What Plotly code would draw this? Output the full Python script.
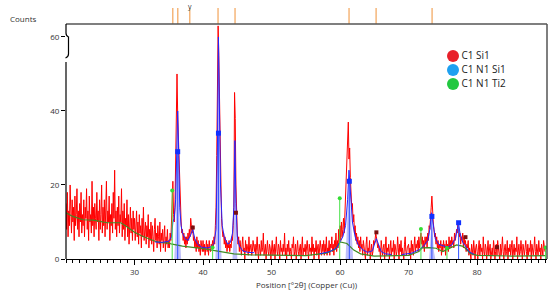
import plotly.graph_objects as go

scan_start = 20.0
scan_step = 0.1
counts = [
    15, 8, 18, 6, 13, 9, 20, 11, 7, 16, 10, 14, 5, 17, 9, 12, 19, 8, 13, 6, 15, 10, 18, 7, 12,
    9, 16, 6, 14, 11, 19, 8, 13, 5, 17, 10, 12, 7, 21, 9, 14, 6, 15, 11, 8, 18, 10, 13, 5, 16,
    8, 12, 20, 7, 14, 9, 16, 6, 11, 21, 8, 13, 10, 17, 5, 12, 9, 15, 7, 18, 11, 24, 8, 13, 6,
    14, 9, 17, 7, 12, 10, 19, 6, 13, 8, 15, 5, 11, 9, 16, 6, 12, 4, 10, 14, 7, 11, 5, 13, 8,
    11, 5, 9, 13, 6, 10, 4, 12, 7, 9, 3, 11, 6, 14, 5, 8, 10, 4, 9, 6, 12, 3, 8, 5, 10,
    4, 9, 6, 2, 8, 11, 5, 7, 3, 9, 6, 4, 10, 2, 7, 5, 8, 3, 6, 9, 2, 6, 4, 8, 3,
    5, 3, 7, 5, 9, 14, 21, 12, 10, 14, 24, 32, 50, 39, 33, 22, 18, 12, 10, 7, 8, 5, 7, 4, 6,
    3, 6, 4, 7, 5, 8, 6, 11, 9, 7, 9, 5, 6, 3, 5, 2, 6, 3, 5, 2, 4, 1, 5, 3, 2,
    5, 2, 4, 1, 3, 5, 2, 4, 1, 5, 3, 2, 4, 3, 5, 3, 6, 4, 9, 14, 28, 44, 63, 55, 42,
    24, 16, 11, 8, 6, 7, 4, 6, 3, 5, 2, 4, 3, 5, 2, 4, 3, 6, 5, 9, 14, 45, 38, 20, 10,
    7, 4, 6, 2, 5, 3, 1, 4, 6, 2, 3, 0, 5, 2, 4, 3, 1, 6, 2, 3, 4, 1, 2, 5, 3,
    2, 4, 1, 3, 6, 2, 0, 4, 3, 1, 5, 2, 3, 7, 1, 2, 4, 0, 3, 5, 2, 1, 4, 3, 0,
    3, 5, 1, 2, 4, 0, 3, 6, 2, 1, 4, 3, 0, 5, 2, 3, 1, 4, 2, 7, 1, 3, 0, 4, 2,
    5, 1, 3, 2, 0, 4, 3, 6, 1, 2, 4, 0, 3, 5, 2, 1, 3, 4, 0, 2, 6, 1, 3, 2, 4,
    1, 3, 5, 2, 0, 4, 2, 3, 1, 6, 2, 4, 0, 3, 2, 5, 1, 3, 4, 0, 2, 5, 3, 1, 4,
    2, 5, 1, 4, 2, 6, 1, 3, 2, 5, 1, 4, 3, 6, 2, 4, 1, 5, 3, 7, 2, 5, 3, 8, 4,
    9, 5, 10, 6, 8, 11, 7, 12, 14, 18, 22, 27, 37, 27, 30, 22, 19, 14, 15, 10, 12, 7, 9, 5, 7,
    4, 6, 3, 5, 2, 6, 3, 4, 1, 5, 3, 2, 0, 4, 6, 1, 3, 2, 5, 0, 3, 4, 1, 2, 5,
    4, 5, 7, 6, 5, 3, 4, 2, 3, 0, 5, 2, 1, 3, 4, 0, 2, 6, 1, 3, 2, 4, 0, 3, 5,
    1, 3, 2, 5, 0, 4, 3, 1, 2, 6, 3, 0, 4, 2, 5, 1, 3, 2, 0, 4, 6, 2, 1, 3, 4,
    4, 1, 3, 0, 5, 2, 4, 1, 3, 6, 2, 4, 3, 5, 2, 6, 3, 5, 7, 4, 6, 3, 5, 2, 6,
    4, 6, 3, 7, 5, 9, 8, 13, 14, 17, 12, 10, 8, 6, 7, 4, 6, 3, 5, 2, 4, 3, 5, 1, 4,
    2, 5, 3, 4, 1, 5, 3, 4, 2, 6, 3, 5, 3, 6, 4, 5, 3, 7, 5, 6, 8, 7, 10, 8, 6,
    7, 4, 6, 5, 7, 3, 6, 4, 5, 2, 4, 3, 5, 1, 3, 2, 0, 4, 3, 1, 5, 2, 0, 3, 4,
    2, 0, 3, 5, 1, 4, 2, 3, 0, 6, 2, 1, 4, 3, 0, 2, 5, 1, 3, 4, 0, 2, 3, 1, 5,
    3, 0, 2, 4, 1, 5, 3, 2, 0, 4, 1, 3, 6, 2, 0, 3, 4, 1, 2, 5, 0, 3, 2, 4, 1,
    3, 5, 0, 2, 4, 1, 3, 2, 6, 0, 3, 4, 1, 2, 5, 3, 0, 4, 2, 1, 3, 5, 2, 0, 4,
    1, 3, 2, 5, 0, 4, 2, 1, 3, 6, 2, 0, 4, 3, 1, 5, 2, 3, 0, 4, 2, 1, 5, 3, 2,
    2,
]
two_theta = [scan_start + i * scan_step for i in range(len(counts))]

# background (green)
bg_x = [20, 21, 22.5, 24, 26, 28, 29, 30, 31, 32, 33, 34, 35, 35.5, 37, 40, 42, 44.5, 47, 50,
        55, 58, 59.3, 60, 61, 62, 63, 65, 68, 70, 71.5, 72, 73, 74, 75, 76, 77, 78, 79, 80, 85, 90]
bg_y = [12.5, 11.5, 10.6, 10.5, 9.8, 9.8, 8.6, 7.2, 6.3, 5.6, 4.8, 4.4, 4.3, 4.0, 3.5, 2.8, 2.2, 1.4, 1.1, 1.0,
        0.9, 1.6, 2.6, 4.6, 4.2, 2.4, 1.4, 0.8, 0.9, 1.0, 2.0, 3.0, 3.1, 2.9, 2.0, 2.8, 3.8, 3.4, 1.5, 1.0, 0.8, 0.9]

# calculated profile (blue), three fitted ranges
calc_x = [
    [33, 34, 35, 35.4, 35.6, 35.8, 36.0, 36.15, 36.3, 36.45, 36.6, 36.8, 37.0, 37.4, 37.8, 38.2, 38.5, 38.8,
     39.2, 39.8, 40.6, 41.2, 41.6, 41.9, 42.1, 42.25, 42.4, 42.55, 42.8, 43.1, 43.6, 44.0, 44.3, 44.5, 44.65,
     44.8, 45.0, 45.3, 45.8, 46.5, 47.5],
    [57, 58.5, 59.5, 60.0, 60.4, 60.8, 61.1, 61.3, 61.5, 61.8, 62.2, 62.6, 63.2, 64.0, 64.7, 65.0, 65.3, 65.6,
     66.0, 66.6, 67.5],
    [69, 70.5, 71.5, 72.2, 72.8, 73.1, 73.35, 73.6, 73.9, 74.4, 75.0, 75.6, 76.3, 76.8, 77.1, 77.3, 77.5, 77.9,
     78.3, 78.8, 79.5],
]
calc_y = [
    [4.6, 4.5, 4.8, 6, 10, 11, 16, 30, 40, 28, 14, 9, 7, 5.5, 5, 6.5, 8, 5.5,
     4, 3.2, 3, 3.3, 4.2, 8, 30, 60, 45, 20, 9, 6, 4, 4.5, 7, 14, 32,
     15, 6, 3.5, 2.2, 1.8, 1.7],
    [1.4, 2, 3, 4.5, 6, 9, 16, 24, 17, 10, 6, 4, 2.6, 1.8, 2.2, 4, 5.5, 4,
     2, 1.4, 1.2],
    [1.2, 1.6, 2.5, 3.5, 5, 8, 12.5, 9, 5.5, 4, 3.5, 3.2, 3.8, 5.5, 8, 9.5, 7, 4.5,
     3.5, 2, 1.3],
]

# single peak profiles (lavender fill)
peak_x = [
    [35.8, 36.0, 36.15, 36.3, 36.45, 36.6, 36.8],
    [41.8, 42.0, 42.15, 42.25, 42.35, 42.5, 42.7],
    [44.3, 44.5, 44.6, 44.65, 44.75, 44.9, 45.0],
    [60.8, 61.0, 61.2, 61.3, 61.45, 61.7, 61.9],
    [73.0, 73.2, 73.35, 73.5, 73.7, 73.9],
]
peak_y = [
    [0, 8, 25, 38, 25, 8, 0],
    [0, 10, 35, 58, 40, 12, 0],
    [0, 8, 25, 30, 18, 4, 0],
    [0, 8, 18, 22, 16, 6, 0],
    [0, 6, 10, 7, 2, 0],
]

# reference positions on top strip
ref_pos = [35.58, 36.31, 38.06, 42.19, 44.67, 61.31, 65.26, 73.43]

# stick markers
blue_pos = [36.3, 42.25, 61.35, 73.4, 77.3]
blue_h = [29, 34, 21, 11.5, 9.8]
green_pos = [35.5, 41.4, 59.95, 71.8, 75.6, 90.0]
green_h = [18.5, 3.1, 16.4, 8.1, 3.0, 3.1]
maroon_pos = [38.5, 44.8, 65.3, 78.3, 82.9]
maroon_h = [8.5, 12.5, 7.2, 5.9, 3.2]

legend_names = ["C1 Si1", "C1 N1 Si1", "C1 N1 Ti2"]
legend_colors = ["#e8202a", "#1ea0f0", "#22c840"]


def join(xs_list, ys_list):
    xs, ys = [], []
    for a, b in zip(xs_list, ys_list):
        xs += list(a) + [None]
        ys += list(b) + [None]
    return xs, ys


def sticks(pos, h):
    xs, ys = [], []
    for p, v in zip(pos, h):
        xs += [p, p, None]
        ys += [0, v, None]
    return xs, ys


fig = go.Figure()

fig.add_trace(go.Scatter(x=two_theta, y=counts, mode="lines",
                         line=dict(color="#ff0000", width=1)))

px_, py_ = join(peak_x, peak_y)
fig.add_trace(go.Scatter(x=px_, y=py_, mode="lines", fill="toself",
                         fillcolor="rgba(110,110,245,0.45)", line=dict(width=0)))

fig.add_trace(go.Scatter(x=bg_x, y=bg_y, mode="lines", line=dict(color="#3f8a24", width=1.2)))

cx, cy = join(calc_x, calc_y)
fig.add_trace(go.Scatter(x=cx, y=cy, mode="lines", line=dict(color="#2424ff", width=1)))

sx, sy = sticks(green_pos, green_h)
fig.add_trace(go.Scatter(x=sx, y=sy, mode="lines", line=dict(color="#44e044", width=1)))
fig.add_trace(go.Scatter(x=green_pos, y=green_h, mode="markers",
                         marker=dict(color="#33dd33", size=4)))

sx, sy = sticks(blue_pos, blue_h)
fig.add_trace(go.Scatter(x=sx, y=sy, mode="lines", line=dict(color="#3050ff", width=1)))
fig.add_trace(go.Scatter(x=blue_pos, y=blue_h, mode="markers",
                         marker=dict(color="#1030ff", size=5, symbol="square")))

fig.add_trace(go.Scatter(x=maroon_pos, y=maroon_h, mode="markers",
                         marker=dict(color="#7a1010", size=4, symbol="square")))

# reference ticks in the strip above the plot
rx, ry = sticks(ref_pos, [1] * len(ref_pos))
fig.add_trace(go.Scatter(x=rx, y=ry, yaxis="y2", mode="lines",
                         line=dict(color="#f5b67a", width=1.5)))

# legend drawn on a pixel overlay
fig.add_trace(go.Scatter(x=[387, 387, 387], y=[203, 189, 175], xaxis="x3", yaxis="y3",
                         mode="markers+text", text=legend_names, textposition="middle right",
                         textfont=dict(size=10, color="#222"),
                         marker=dict(color=legend_colors, size=12)))

dom_top = 235 / 251

fig.update_layout(
    width=550, height=292,
    margin=dict(l=66, r=3, t=8, b=33),
    plot_bgcolor="rgba(0,0,0,0)", paper_bgcolor="white",
    showlegend=False,
    font=dict(family="Open Sans, sans-serif", size=8, color="#333"),
    xaxis=dict(range=[20, 90.2], anchor="y", showgrid=False, zeroline=False,
               showline=True, linecolor="black", linewidth=1.2,
               ticks="outside", ticklen=5, tickcolor="black",
               tickvals=[30, 40, 50, 60, 70, 80],
               minor=dict(dtick=1, tick0=0, ticks="outside", ticklen=3, tickcolor="black"),
               title=dict(text="Position [°2θ] (Copper (Cu))", font=dict(size=8), standoff=6)),
    yaxis=dict(range=[0, 63.5], domain=[0, dom_top], showgrid=False, zeroline=False,
               showline=False, ticks="outside", ticklen=4, tickcolor="black",
               tickvals=[0, 20, 40, 60]),
    yaxis2=dict(range=[0, 1], domain=[dom_top, 1], anchor="x", visible=False),
    xaxis3=dict(range=[0, 481], domain=[0, 1], anchor="y3", visible=False),
    yaxis3=dict(range=[0, 251], domain=[0, 1], anchor="x3", visible=False),
    shapes=[
        dict(type="line", xref="paper", yref="paper", x0=0, x1=1, y0=dom_top, y1=dom_top,
             line=dict(color="#555", width=1.5)),
        dict(type="line", xref="paper", yref="paper", x0=1, x1=1, y0=0, y1=dom_top,
             line=dict(color="#555", width=1.5)),
        dict(type="line", xref="paper", yref="paper", x0=0, x1=0, y0=0, y1=(259 - 62) / 251,
             line=dict(color="black", width=1.2)),
        dict(type="path", xref="paper", yref="paper", xsizemode="pixel", ysizemode="pixel",
             xanchor=0, yanchor=dom_top,
             path="M0,0 L0,-9 Q0,-12 2.5,-13 L2.5,-30 Q2.5,-33 -0.5,-34",
             line=dict(color="black", width=1.2)),
    ],
    annotations=[
        dict(text="Counts", xref="paper", yref="paper", x=-0.12, y=0.96,
             xanchor="left", yanchor="middle", showarrow=False, font=dict(size=8, color="#333")),
        dict(text="y", xref="x", yref="paper", x=38.06, y=1.0, xanchor="center", yanchor="middle",
             yshift=2, showarrow=False, font=dict(size=7, color="#333")),
    ],
)

# page body has a default 8px margin; drop it so the figure sits at the window origin
fig.write_html("out.html", config={"displayModeBar": False},
               post_script="document.body.style.margin='0px';")
